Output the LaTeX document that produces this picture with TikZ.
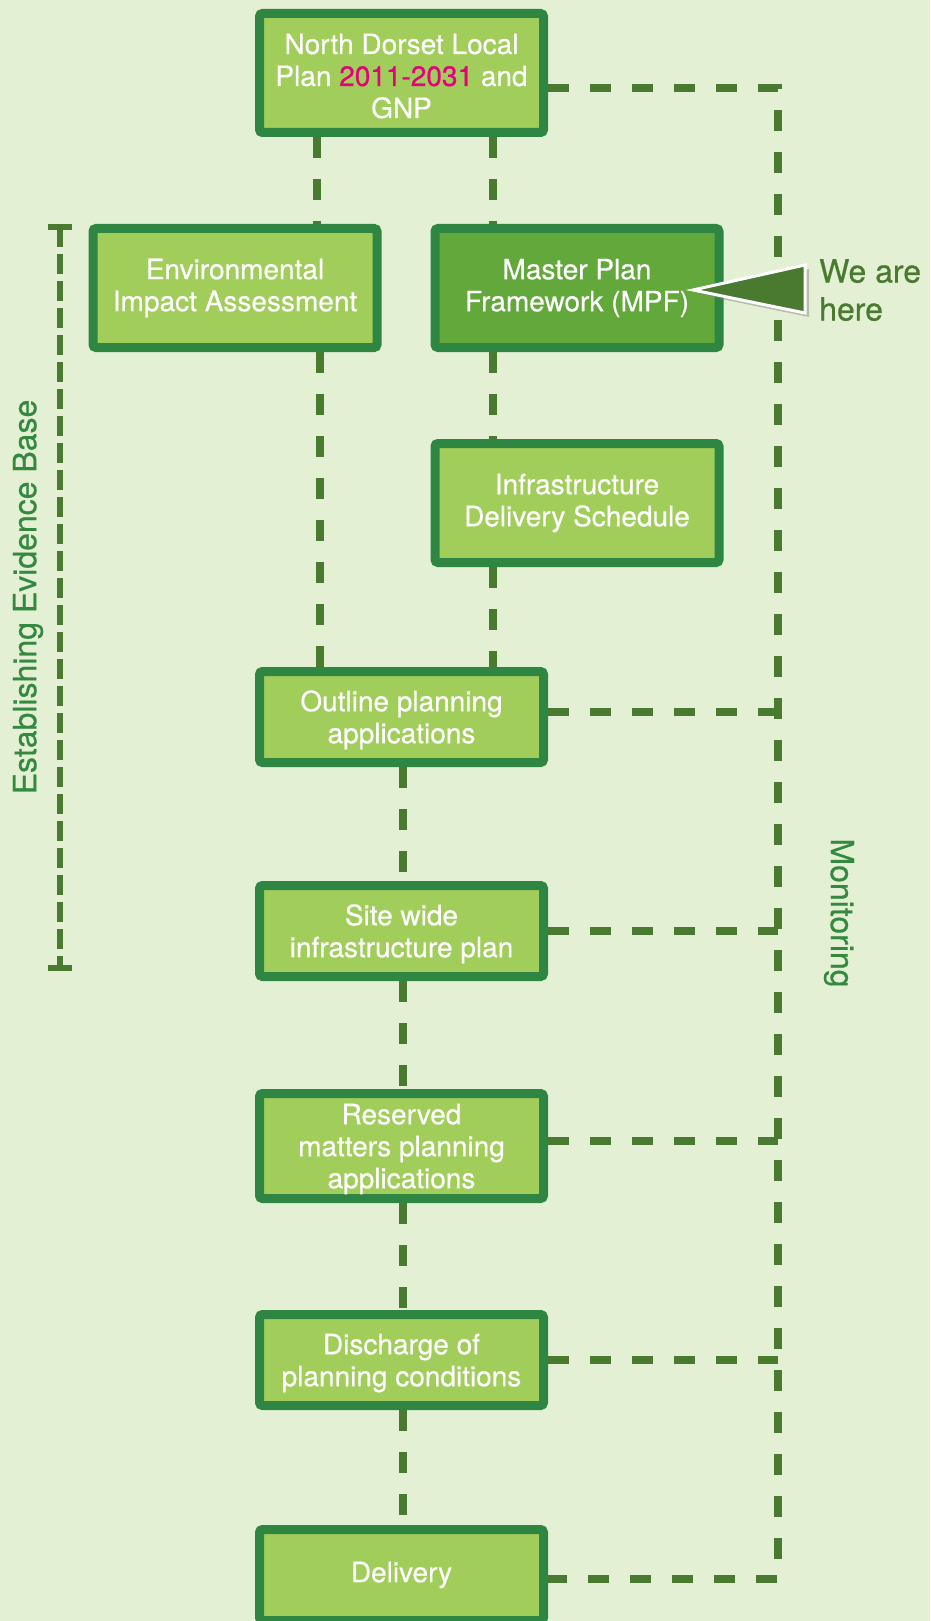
\documentclass[tikz,border=0pt]{standalone}
\usepackage{fontspec}
\setmainfont[FakeBold=0.5]{TeX Gyre Heros}
\usetikzlibrary{shadows}
\definecolor{bgcol}{HTML}{E4F0D3}
\definecolor{boxfill}{HTML}{A1CD5B}
\definecolor{boxdark}{HTML}{63A83A}
\definecolor{border}{HTML}{2F8642}
\definecolor{conn}{HTML}{4A7A30}
\definecolor{lbl}{HTML}{33893F}
\definecolor{magentared}{HTML}{E5007D}
\newcommand\liftline{\rule{0pt}{26.5pt}}
\pgfdeclarelayer{back}
\pgfsetlayers{back,main}
\begin{document}
\begin{tikzpicture}[x=1pt,y=-1pt,
  stagebox/.style={draw=border, fill=boxfill, line width=9pt, rounded corners=3pt,
    minimum width=284pt, text=white, font=\fontsize{28}{32}\selectfont,
    align=center, inner sep=0pt},
  conline/.style={draw=conn, line width=8pt, dash pattern=on 21pt off 21pt},
  bracketline/.style={draw=conn, line width=6pt, dash pattern=on 20pt off 7pt},
  sidelabel/.style={text=lbl, font=\fontsize{32}{38}\selectfont, inner sep=0pt}]
\useasboundingbox (0,0) rectangle (930,1621);

% boxes
\node[stagebox, minimum height=119pt] (top) at (401.5,73) {\liftline North Dorset Local\\Plan \textcolor{magentared}{2011-2031} and\\GNP};
\node[stagebox, minimum height=119pt] (eia) at (235,288) {Environmental\\Impact Assessment};
\node[stagebox, minimum height=119pt, fill=boxdark] (mpf) at (577,288) {Master Plan\\Framework (MPF)};
\node[stagebox, minimum height=119pt] (ids) at (577,503) {Infrastructure\\Delivery Schedule};
\node[stagebox, minimum height=91pt] (outline) at (401.5,717) {\liftline Outline planning\\applications};
\node[stagebox, minimum height=91pt] (site) at (401.5,931) {\liftline Site wide\\infrastructure plan};
\node[stagebox, minimum height=105pt] (reserved) at (401.5,1146) {\liftline Reserved\\matters planning\\applications};
\node[stagebox, minimum height=91pt] (discharge) at (401.5,1360) {\liftline Discharge of\\planning conditions};
\node[stagebox, minimum height=91pt] (delivery) at (401.5,1575) {Delivery};

% coordinates for connector columns / rows
\coordinate (cA) at (317,0);
\coordinate (cB) at (493,0);
\coordinate (cC) at (320,0);
\coordinate (cD) at (403,0);
\coordinate (r0) at (778,88);
\coordinate (r1) at (778,712);
\coordinate (r2) at (778,931);
\coordinate (r3) at (778,1141);
\coordinate (r4) at (778,1360);
\coordinate (r5) at (778,1579);
\coordinate (bt) at (60,227);
\coordinate (bb) at (60,968);

\begin{pgfonlayer}{back}
\fill[bgcol] (0,0) rectangle (930,1621);
% vertical connectors
\draw[conline] (top.south -| cA) -- (eia.north -| cA);
\draw[conline] (top.south -| cB) -- (mpf.north -| cB);
\draw[conline] (eia.south -| cC) -- (outline.north -| cC);
\draw[conline] (mpf.south -| cB) -- (ids.north -| cB);
\draw[conline] (ids.south -| cB) -- (outline.north -| cB);
\draw[conline] (outline.south -| cD) -- (site.north -| cD);
\draw[conline] (site.south -| cD) -- (reserved.north -| cD);
\draw[conline] (reserved.south -| cD) -- (discharge.north -| cD);
\draw[conline] (discharge.south -| cD) -- (delivery.north -| cD);
% monitoring loop
\draw[conline] (top.east |- r0) -- (r0) -- (r5) -- (delivery.east |- r5);
\draw[conline] (outline.east |- r1) -- (r1);
\draw[conline] (site.east |- r2) -- (r2);
\draw[conline] (reserved.east |- r3) -- (r3);
\draw[conline] (discharge.east |- r4) -- (r4);
% evidence base bracket
\draw[bracketline] (bt) -- (bb);
\draw[conn, line width=6pt] ([xshift=-12pt]bt) -- ([xshift=12pt]bt);
\draw[conn, line width=6pt] ([xshift=-12pt]bb) -- ([xshift=12pt]bb);
\end{pgfonlayer}

% we are here callout
\coordinate (tip) at (693,290);
\filldraw[fill=conn, draw=white, line width=3pt,
  drop shadow={shadow xshift=4pt, shadow yshift=-4pt, opacity=0.45}]
  (tip) -- (805,265) -- (805,313) -- cycle;
\node[anchor=north west, inner sep=0pt, align=left, text=conn,
  font=\fontsize{32}{38}\selectfont] (here) at (819,259) {We are\\here};

% side labels
\node[sidelabel, rotate=90] (eeb) at (28,597) {Establishing Evidence Base};
\node[sidelabel, rotate=-90] (mon) at (839,913) {Monitoring};
\end{tikzpicture}
\end{document}
